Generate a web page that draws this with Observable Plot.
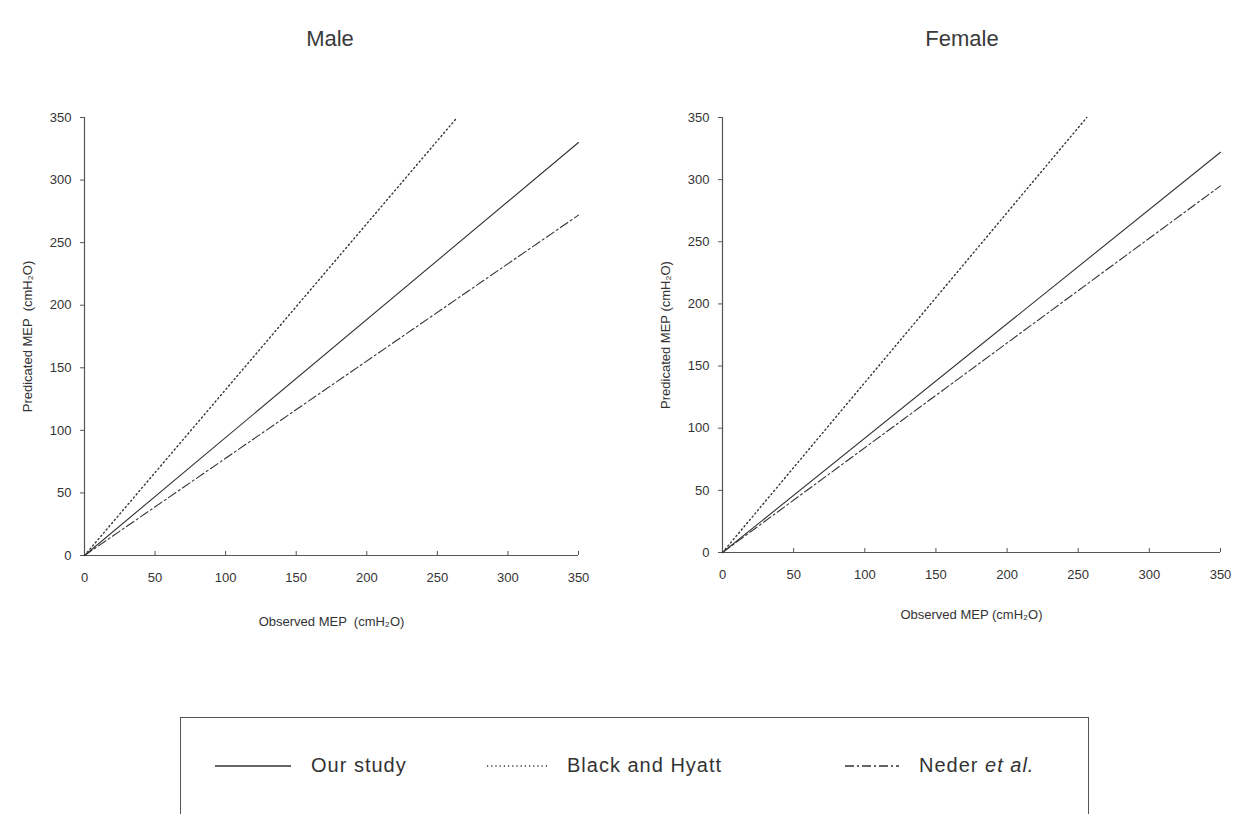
<!DOCTYPE html>
<html>
<head>
<meta charset="utf-8">
<script src="https://cdn.jsdelivr.net/npm/d3@7"></script>
<script src="https://cdn.jsdelivr.net/npm/@observablehq/plot@0.6"></script>
<style>
  html, body { margin: 0; padding: 0; background: #fff; }
  body { width: 1233px; height: 814px; position: relative; overflow: hidden; font-family: "Liberation Sans", Arial, sans-serif; color: #333; }
  .title { position: absolute; top: 26px; font-size: 22px; color: #3a3a3a; transform: translateX(-50%); }
  .panel { position: absolute; top: 100px; }
  .legend { position: absolute; left: 180px; top: 717px; width: 909px; height: 120px; border: 1px solid #555; box-sizing: border-box; }
  .legend .item { position: absolute; top: 36px; display: flex; align-items: center; font-family: "Liberation Sans", Arial, sans-serif; font-size: 20px; color: #333; letter-spacing: 1px; }
  .legend svg { margin-right: 20px; }
</style>
</head>
<body>
<div class="title" style="left:330px">Male</div>
<div class="title" style="left:962px">Female</div>
<div id="male" class="panel" style="left:0px"></div>
<div id="female" class="panel" style="left:638px"></div>
<div class="legend" id="legend"></div>
<script>
// ---- data ----
const series = ["Our study", "Black and Hyatt", "Neder et al."];
const ticks = [0, 50, 100, 150, 200, 250, 300, 350];
// endpoints of each fitted line: observed (x) -> predicted (y)
const maleObserved   = { "Our study": [0, 350], "Black and Hyatt": [0, 264], "Neder et al.": [0, 350] };
const malePredicted  = { "Our study": [0, 330], "Black and Hyatt": [0, 350], "Neder et al.": [0, 272] };
const femaleObserved  = { "Our study": [0, 350], "Black and Hyatt": [0, 256], "Neder et al.": [0, 350] };
const femalePredicted = { "Our study": [0, 322], "Black and Hyatt": [0, 350], "Neder et al.": [0, 295] };
const dashes = { "Our study": null, "Black and Hyatt": "1.2,3", "Neder et al.": "9,3,2,3" };

function rows(obs, pred) {
  const out = [];
  for (const s of series) obs[s].forEach((x, i) => out.push({ series: s, x, y: pred[s][i] }));
  return out;
}

const font = "'Liberation Sans', Arial, sans-serif";

function panel(data, opts) {
  const marks = [
    Plot.ruleX([0], { stroke: "#555", strokeWidth: 1.2 }),
    Plot.ruleY([0], { stroke: "#555", strokeWidth: 1.2 }),
    Plot.axisX({ ticks, tickSize: -4, tickPadding: 21, fontSize: 13, label: opts.xlabel, labelAnchor: "center", labelArrow: "none", labelOffset: opts.xLabelOffset, stroke: "#555" }),
    Plot.axisY({ ticks, tickSize: 4, tickPadding: 9, fontSize: 13, label: opts.ylabel, labelAnchor: "center", labelArrow: "none", labelOffset: 62, stroke: "#555" })
  ];
  for (const s of series) {
    marks.push(Plot.line(data.filter(d => d.series === s), {
      x: "x", y: "y", stroke: "#333", strokeWidth: s === "Black and Hyatt" ? 1.4 : 1.1,
      strokeDasharray: dashes[s] || undefined
    }));
  }
  return Plot.plot({
    width: opts.width, height: 540,
    marginLeft: 84, marginRight: opts.marginRight, marginTop: 17, marginBottom: opts.marginBottom,
    x: { domain: [0, 350] },
    y: { domain: [0, 350] },
    style: { fontFamily: font, fontSize: "12px", color: "#333", background: "transparent" },
    marks
  });
}

document.getElementById("male").append(panel(rows(maleObserved, malePredicted), {
  width: 616, marginRight: 38, marginBottom: 85, xLabelOffset: 70,
  xlabel: "Observed MEP  (cmH₂O)", ylabel: "Predicated MEP  (cmH₂O)"
}));
document.getElementById("female").append(panel(rows(femaleObserved, femalePredicted), {
  width: 595, marginRight: 13, marginBottom: 88, xLabelOffset: 66,
  xlabel: "Observed MEP (cmH₂O)", ylabel: "Predicated MEP (cmH₂O)"
}));

// ---- legend ----
const legendItems = [
  { s: "Our study", left: 34, w: 76, html: "Our study" },
  { s: "Black and Hyatt", left: 306, w: 60, html: "Black and Hyatt" },
  { s: "Neder et al.", left: 664, w: 54, html: "Neder <i>et al.</i>" }
];
const lg = document.getElementById("legend");
for (const it of legendItems) {
  const div = document.createElement("div");
  div.className = "item";
  div.style.left = it.left + "px";
  const dash = dashes[it.s] ? `stroke-dasharray="${dashes[it.s]}"` : "";
  div.innerHTML = `<svg width="${it.w}" height="10"><line x1="0" y1="5" x2="${it.w}" y2="5" stroke="#333" stroke-width="1.3" ${dash}/></svg><span>${it.html}</span>`;
  lg.append(div);
}
</script>
</body>
</html>
